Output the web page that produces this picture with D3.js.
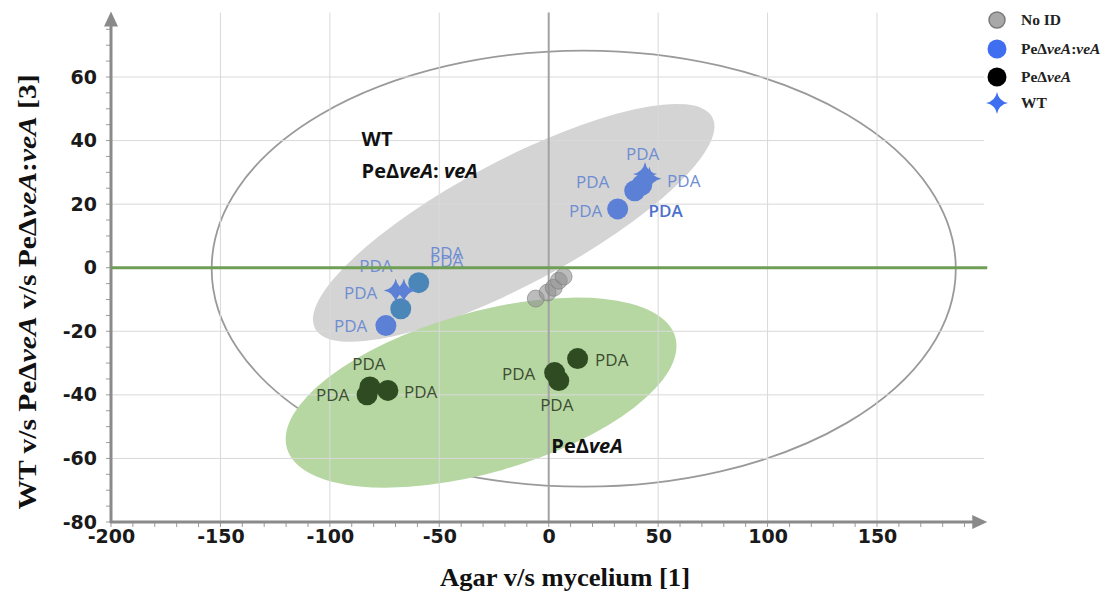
<!DOCTYPE html>
<html>
<head>
<meta charset="utf-8">
<script src="https://cdn.jsdelivr.net/npm/d3@7"></script>
<style>
  body { margin: 0; background: #fff; }
  svg { display: block; }
</style>
</head>
<body>
<svg width="1110" height="595"></svg>
<script>
// scores
const noIdX = [-5.9, -0.5, 2.3, 4.6, 6.8];
const noIdY = [-9.7, -7.8, -6.3, -4.1, -2.8];

const compX = [-74.4, -67.6, -59.4, 31.5, 39.3, 42.5];
const compY = [-18.2, -12.9, -4.7, 18.5, 24.2, 26.0];

const deltaX = [-81.7, -83.0, -73.5, 13.2, 2.7, 4.6];
const deltaY = [-37.5, -40.0, -38.6, -28.6, -33.0, -35.5];

const wtX = [-69.9, -66.2, 44.0, 46.0];
const wtY = [-7.2, -7.2, 29.5, 28.0];

// "PDA" sample labels
const blueLabelX = [-90.5, -85.9, -79.0, -46.6, -46.6, 16.9, 20.1, 42.9, 61.7, 53.4];
const blueLabelY = [-18.2, -7.9, 0.6, 4.7, 2.2, 17.9, 27.0, 35.9, 27.4, 17.9];
const darkLabelX = [-82.2, -98.7, -58.5, 28.8, -13.7, 3.7];
const darkLabelY = [-30.2, -39.9, -39.0, -28.9, -33.3, -43.1];

const xTicks = [-200, -150, -100, -50, 0, 50, 100, 150];
const yTicks = [-80, -60, -40, -20, 0, 20, 40, 60];

const legendNames = ["No ID", "PeΔveA:veA", "PeΔveA", "WT"];

const svg = d3.select("svg");

const x = d3.scaleLinear().domain([-200, 150]).range([111, 877]);
const y = d3.scaleLinear().domain([-80, 60]).range([522, 77]);

const xEnd = 199, yTop = 79;

// ellipses (centre, radii in data units, tilt in degrees)
const ellipses = [
  {cx: 16, cy: -0.3, rx: 170, ry: 68.6, rot: 0, fill: "none", stroke: "#9a9a9a"},
  {cx: -16, cy: 14.1, rx: 102.8, ry: 19.5, rot: -28, fill: "#d4d4d4", stroke: "none"},
  {cx: -30.9, cy: -39.3, rx: 92.3, ry: 25.2, rot: -16, fill: "#b6d7a2", stroke: "none"}
];
svg.append("g").selectAll("ellipse")
  .data(ellipses)
  .join("ellipse")
    .attr("cx", d => x(d.cx))
    .attr("cy", d => y(d.cy))
    .attr("rx", d => x(d.cx + d.rx) - x(d.cx))
    .attr("ry", d => y(d.cy) - y(d.cy + d.ry))
    .attr("transform", d => `rotate(${d.rot},${x(d.cx)},${y(d.cy)})`)
    .attr("fill", d => d.fill)
    .attr("stroke", d => d.stroke)
    .attr("stroke-width", 1.8);

// grid
const grid = svg.append("g");
grid.selectAll(".hg")
  .data(yTicks.filter(t => t !== 0 && t !== -80))
  .join("line")
    .attr("x1", x(-200)).attr("x2", x(xEnd))
    .attr("y1", d => y(d)).attr("y2", d => y(d))
    .attr("stroke", "#d9d9d9").attr("stroke-width", 1);
grid.selectAll(".vg")
  .data(xTicks.filter(t => t !== -200))
  .join("line")
    .attr("x1", d => x(d)).attr("x2", d => x(d))
    .attr("y1", y(-80)).attr("y2", y(yTop) - 4)
    .attr("stroke", d => d === 0 ? "#a3a3a3" : "#d9d9d9")
    .attr("stroke-width", d => d === 0 ? 2 : 1);

// minor ticks
const minor = svg.append("g").attr("stroke", "#9a9a9a").attr("stroke-width", 1);
minor.selectAll(".mx")
  .data(d3.range(-200, 200, 10))
  .join("line")
    .attr("x1", d => x(d)).attr("x2", d => x(d))
    .attr("y1", y(-80)).attr("y2", y(-80) + 5);
minor.selectAll(".my")
  .data(d3.range(-80, 80, 5))
  .join("line")
    .attr("x1", x(-200) - 5).attr("x2", x(-200))
    .attr("y1", d => y(d)).attr("y2", d => y(d));

// axes
const axisCol = "#8a8a8a";
const xAxis = svg.append("g")
  .attr("transform", `translate(0,${y(-80)})`)
  .call(d3.axisBottom(x).tickValues(xTicks).tickSize(0).tickPadding(8).tickFormat(d => String(d)));
xAxis.select(".domain").remove();
xAxis.selectAll("text")
  .attr("font-family", "DejaVu Sans").attr("font-weight", "bold")
  .attr("font-size", 19).attr("fill", "#1a1a1a");

const yAxis = svg.append("g")
  .attr("transform", `translate(${x(-200)},0)`)
  .call(d3.axisLeft(y).tickValues(yTicks).tickSize(0).tickPadding(14).tickFormat(d => String(d)));
yAxis.select(".domain").remove();
yAxis.selectAll("text")
  .attr("font-family", "DejaVu Sans").attr("font-weight", "bold")
  .attr("font-size", 19).attr("fill", "#1a1a1a");

svg.append("line")
  .attr("x1", x(-200) - 1).attr("x2", x(xEnd) - 10)
  .attr("y1", y(-80)).attr("y2", y(-80))
  .attr("stroke", axisCol).attr("stroke-width", 3);
svg.append("path")
  .attr("d", `M${x(xEnd) - 12},${y(-80) - 7}L${x(xEnd) + 3},${y(-80)}L${x(xEnd) - 12},${y(-80) + 7}Z`)
  .attr("fill", axisCol);
svg.append("line")
  .attr("x1", x(-200)).attr("x2", x(-200))
  .attr("y1", y(-80) + 1).attr("y2", y(yTop) + 8)
  .attr("stroke", axisCol).attr("stroke-width", 3);
svg.append("path")
  .attr("d", `M${x(-200) - 7},${y(yTop) + 10}L${x(-200)},${y(yTop) - 5}L${x(-200) + 7},${y(yTop) + 10}Z`)
  .attr("fill", axisCol);

// 4-point star path
function sparkle(cx, cy, r) {
  const k = r * 0.16;
  return `M${cx},${cy - r}Q${cx + k},${cy - k} ${cx + r},${cy}` +
         `Q${cx + k},${cy + k} ${cx},${cy + r}` +
         `Q${cx - k},${cy + k} ${cx - r},${cy}` +
         `Q${cx - k},${cy - k} ${cx},${cy - r}Z`;
}

// points
const blue = "#5b80d6";
svg.append("g").selectAll("circle")
  .data(d3.zip(deltaX, deltaY))
  .join("circle")
    .attr("cx", d => x(d[0])).attr("cy", d => y(d[1]))
    .attr("r", 10.5).attr("fill", "#2f4b21");

svg.append("g").selectAll("circle")
  .data(d3.zip(compX, compY))
  .join("circle")
    .attr("cx", d => x(d[0])).attr("cy", d => y(d[1]))
    .attr("r", 10.5).attr("fill", (d, i) => (i === 1 || i === 2) ? "#4b86b9" : blue);

svg.append("g").selectAll("path")
  .data(d3.zip(wtX, wtY))
  .join("path")
    .attr("d", d => sparkle(x(d[0]), y(d[1]), 12))
    .attr("fill", blue);

svg.append("g").selectAll("circle")
  .data(d3.zip(noIdX, noIdY))
  .join("circle")
    .attr("cx", d => x(d[0])).attr("cy", d => y(d[1]))
    .attr("r", 8.5).attr("fill", "#8f8f8f").attr("fill-opacity", 0.6)
    .attr("stroke", "#7a7a7a").attr("stroke-opacity", 0.6).attr("stroke-width", 1);

// PDA labels
svg.append("g").selectAll("text")
  .data(d3.zip(blueLabelX, blueLabelY))
  .join("text")
    .attr("x", d => x(d[0])).attr("y", d => y(d[1]))
    .attr("text-anchor", "middle").attr("dominant-baseline", "central")
    .attr("font-family", "Open Sans").attr("font-size", 17)
    .attr("fill", (d, i) => i === 9 ? "#4d70cc" : "#6f8dd2")
    .attr("font-weight", (d, i) => i === 9 ? 600 : 400)
    .text("PDA");

svg.append("g").selectAll("text")
  .data(d3.zip(darkLabelX, darkLabelY))
  .join("text")
    .attr("x", d => x(d[0])).attr("y", d => y(d[1]))
    .attr("text-anchor", "middle").attr("dominant-baseline", "central")
    .attr("font-family", "Open Sans").attr("font-size", 17)
    .attr("fill", "#3c4d31")
    .text("PDA");

// zero line
svg.append("line")
  .attr("x1", x(-200)).attr("x2", x(xEnd) + 3)
  .attr("y1", y(0)).attr("y2", y(0))
  .attr("stroke", "#6f9f55").attr("stroke-width", 3);

// group annotations
function richText(sel, parts) {
  parts.forEach(p => sel.append("tspan").attr("font-style", p[1] ? "italic" : null).text(p[0]));
  return sel;
}
const ann = svg.append("g")
  .attr("font-family", "Open Sans").attr("font-weight", "bold")
  .attr("font-size", 20).attr("fill", "#111");
ann.append("text").attr("x", x(-85.5)).attr("y", y(38.3)).text("WT");
richText(ann.append("text").attr("x", x(-85.5)).attr("y", y(28.2)),
  [["PeΔ", false], ["veA", true], [": ", false], ["veA", true]]);
richText(ann.append("text").attr("x", x(1.2)).attr("y", y(-58.2)),
  [["PeΔ", false], ["veA", true]]);

// axis titles
svg.append("text")
  .attr("x", 565).attr("y", 586)
  .attr("text-anchor", "middle")
  .attr("font-family", "Liberation Serif").attr("font-weight", "bold")
  .attr("font-size", 26).attr("fill", "#111")
  .attr("textLength", 250).attr("lengthAdjust", "spacingAndGlyphs")
  .text("Agar v/s mycelium [1]");

richText(svg.append("text")
  .attr("transform", "translate(36,292) rotate(-90)")
  .attr("text-anchor", "middle")
  .attr("font-family", "Liberation Serif").attr("font-weight", "bold")
  .attr("font-size", 26).attr("fill", "#111")
  .attr("textLength", 435).attr("lengthAdjust", "spacingAndGlyphs"),
  [["WT v/s PeΔ", false], ["veA", true], [" v/s PeΔ", false], ["veA", true], [":", false], ["veA", true], [" [3]", false]]);

// legend
const legend = svg.append("g").attr("transform", "translate(997,20)");
const items = legend.selectAll("g")
  .data(legendNames)
  .join("g")
    .attr("transform", (d, i) => `translate(0,${[0, 29, 57, 83][i]})`);
items.each(function(d, i) {
  const g = d3.select(this);
  if (i === 3) {
    g.append("path").attr("d", sparkle(0, 0, 11)).attr("fill", "#3f6ff0");
  } else {
    g.append("circle").attr("r", i === 0 ? 8 : 9.5)
      .attr("fill", ["#a8a8a8", "#3f6ff0", "#000"][i])
      .attr("stroke", i === 0 ? "#7a7a7a" : "none").attr("stroke-width", 1.5);
  }
  const t = g.append("text").attr("x", 24).attr("dy", "0.35em")
    .attr("font-family", "Liberation Serif").attr("font-weight", "bold")
    .attr("font-size", 15.5).attr("fill", "#222");
  if (d.indexOf("Δ") >= 0) {
    const parts = d.split(/(veA)/).filter(s => s.length);
    richText(t, parts.map(s => [s, s === "veA"]));
  } else {
    t.text(d);
  }
});
</script>
</body>
</html>
